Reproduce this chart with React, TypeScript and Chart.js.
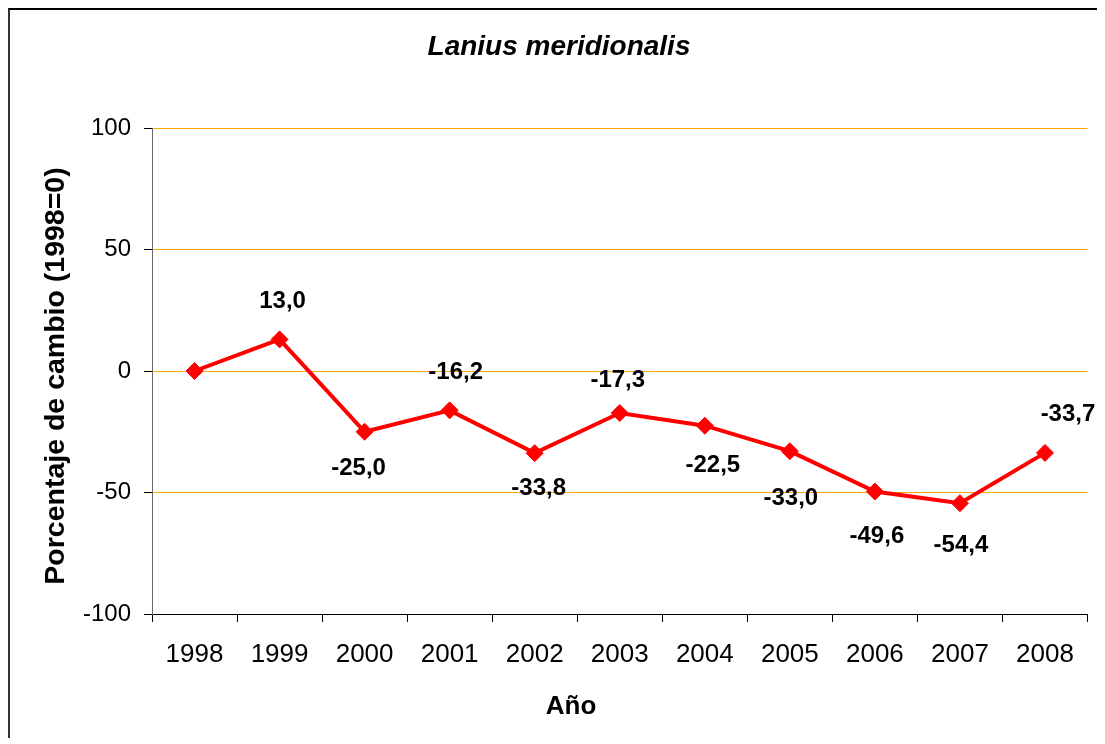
import React, { useEffect, useRef } from "react";
import { Chart, registerables } from "chart.js";

Chart.register(...registerables);

const years: string[] = ["1998", "1999", "2000", "2001", "2002", "2003", "2004", "2005", "2006", "2007", "2008"];
const changePct: number[] = [0, 13.0, -25.0, -16.2, -33.8, -17.3, -22.5, -33.0, -49.6, -54.4, -33.7];
const yTicks: number[] = [-100, -50, 0, 50, 100];
const showLabel: boolean[] = [false, true, true, true, true, true, true, true, true, true, true];
// label placement offsets relative to the point (styling only)
const labelDx: number[] = [0, 3, -6, 6, 4, -2, 8, 1, 2, 1, 23];
const labelDy: number[] = [0, -38, 37, -38, 35, -33, 40, 47, 45, 42, -39];

const FONT = "'Liberation Sans', Arial, sans-serif";

const W = 1087;
const H = 726;

export default function App() {
  const ref = useRef<HTMLCanvasElement | null>(null);

  useEffect(() => {
    if (!ref.current) return;

    const textPlugin = {
      id: "texts",
      afterDatasetsDraw(chart: any) {
        const ctx = chart.ctx;
        const meta = chart.getDatasetMeta(0);
        ctx.save();
        ctx.fillStyle = "#000";
        ctx.textAlign = "center";
        ctx.textBaseline = "middle";
        ctx.font = `bold 24px ${FONT}`;
        meta.data.forEach((pt: any, i: number) => {
          if (!showLabel[i]) return;
          const txt = changePct[i].toFixed(1).replace(".", ",");
          ctx.fillText(txt, pt.x + labelDx[i], pt.y + labelDy[i]);
        });
        ctx.restore();
      },
      afterDraw(chart: any) {
        const ctx = chart.ctx;
        ctx.save();
        ctx.fillStyle = "#000";
        ctx.textAlign = "center";
        ctx.textBaseline = "middle";
        ctx.font = `italic bold 28px ${FONT}`;
        ctx.fillText("Lanius meridionalis", 549, 37);
        ctx.font = `bold 26px ${FONT}`;
        ctx.fillText("Año", 561, 697);
        ctx.translate(46, 366);
        ctx.rotate(-Math.PI / 2);
        ctx.font = `bold 28.5px ${FONT}`;
        ctx.fillText("Porcentaje de cambio (1998=0)", 0, 0);
        ctx.restore();
      },
    };

    const chart = new Chart(ref.current, {
      type: "line",
      data: {
        labels: years,
        datasets: [
          {
            data: changePct,
            borderColor: "#FF0000",
            backgroundColor: "#FF0000",
            borderWidth: 4,
            pointStyle: "rectRot",
            pointRadius: 8.5,
            pointBorderWidth: 1,
            pointBackgroundColor: "#FF0000",
            pointBorderColor: "#FF0000",
            tension: 0,
          },
        ],
      },
      options: {
        responsive: false,
        animation: false,
        events: [],
        layout: { padding: { top: 118, right: 7, left: 0, bottom: 0 } },
        plugins: {
          legend: { display: false },
          tooltip: { enabled: false },
          title: { display: false },
        },
        scales: {
          x: {
            type: "category",
            offset: true,
            afterFit: (s: any) => {
              s.height = 122;
            },
            grid: {
              offset: true,
              drawOnChartArea: false,
              drawTicks: true,
              tickLength: 8,
              tickColor: "#000",
              color: "#000",
            },
            border: { display: true, color: "#000", width: 1 },
            ticks: {
              color: "#000",
              font: { family: FONT, size: 26 },
              padding: 17,
              maxRotation: 0,
              autoSkip: false,
            },
          },
          y: {
            min: -100,
            max: 100,
            afterFit: (s: any) => {
              s.width = 142;
            },
            afterBuildTicks: (s: any) => {
              s.ticks = yTicks.map((v) => ({ value: v }));
            },
            grid: {
              color: "#FFA500",
              lineWidth: 1,
              drawTicks: true,
              tickLength: 8,
              tickColor: "#000",
            },
            border: { display: true, color: "#666", width: 1 },
            ticks: {
              color: "#000",
              font: { family: FONT, size: 24 },
              padding: 13,
              callback: (v: any) => String(v),
            },
          },
        },
      },
      plugins: [textPlugin],
    });

    return () => chart.destroy();
  }, []);

  return (
    <div
      style={{
        position: "relative",
        height: 728,
        borderTop: "2px solid #000",
        borderLeft: "2px solid #333",
        background: "#fff",
        overflow: "hidden",
      }}
    >
      <canvas ref={ref} width={W} height={H} style={{ display: "block" }} />
    </div>
  );
}
